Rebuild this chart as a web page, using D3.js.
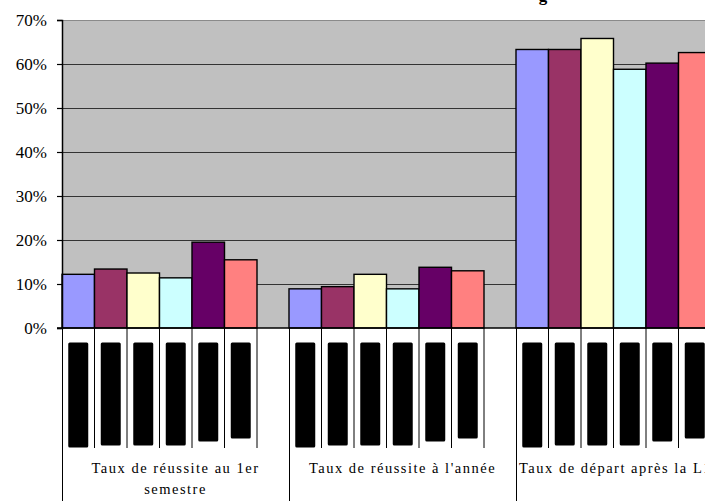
<!DOCTYPE html>
<html>
<head>
<meta charset="utf-8">
<script src="https://cdn.jsdelivr.net/npm/d3@7"></script>
<style>
  html, body { margin: 0; padding: 0; background: #fff; }
  svg { display: block; }
</style>
</head>
<body>
<svg id="chart" width="705" height="501"></svg>
<script>
// Categories (x axis) and their wrapped label lines
const categories = ["Taux de réussite au 1er semestre", "Taux de réussite à l'année", "Taux de départ après la L1"];
const categoryLines = [["Taux de réussite au 1er", "semestre"], ["Taux de réussite à l'année"], ["Taux de départ après la L1"]];

// Six series, one value (%) per category
const serie1 = [12.2, 8.9, 63.3];
const serie2 = [13.4, 9.4, 63.3];
const serie3 = [12.5, 12.2, 65.8];
const serie4 = [11.4, 8.9, 58.8];
const serie5 = [19.5, 13.8, 60.2];
const serie6 = [15.5, 13.0, 62.6];
const seriesValues = [serie1, serie2, serie3, serie4, serie5, serie6];
const seriesColors = ["#9999FF", "#993366", "#FFFFCC", "#CCFFFF", "#660066", "#FF8080"];

// Y axis ticks
const yTicks = [0, 10, 20, 30, 40, 50, 60, 70];

const svg = d3.select("#chart");
const plot = { left: 62, top: 20, bottom: 328, slot: 227, barsWidth: 195 };

const x = d3.scaleBand()
  .domain(categories)
  .range([plot.left, plot.left + plot.slot * categories.length])
  .paddingInner(0).paddingOuter(0);

const xs = d3.scaleBand()
  .domain(d3.range(seriesValues.length))
  .range([0, plot.barsWidth])
  .paddingInner(0).paddingOuter(0);

const y = d3.scaleLinear().domain([0, 70]).range([plot.bottom, plot.top]);

// Plot area background
svg.append("rect")
  .attr("x", plot.left).attr("y", plot.top)
  .attr("width", x.range()[1] - plot.left).attr("height", plot.bottom - plot.top)
  .attr("fill", "#C0C0C0");
svg.append("line")
  .attr("x1", plot.left).attr("x2", x.range()[1])
  .attr("y1", plot.top + 0.5).attr("y2", plot.top + 0.5)
  .attr("stroke", "#8a8a8a").attr("stroke-width", 1);

// Gridlines
svg.append("g").selectAll("line")
  .data(yTicks.filter(t => t > 0 && t < 70))
  .join("line")
  .attr("x1", plot.left).attr("x2", x.range()[1])
  .attr("y1", d => Math.round(y(d)) + 0.5).attr("y2", d => Math.round(y(d)) + 0.5)
  .attr("stroke", "#333").attr("stroke-width", 1);

// Title, running past the top edge
svg.append("text")
  .attr("x", 543).attr("y", 1)
  .attr("text-anchor", "middle")
  .attr("font-family", "Liberation Serif, Times New Roman, serif")
  .attr("font-weight", "bold").attr("font-size", 17)
  .text("g");

// Bars
const groups = svg.append("g").selectAll("g")
  .data(categories)
  .join("g")
  .attr("transform", c => `translate(${x(c)},0)`);

groups.selectAll("rect")
  .data((c, ci) => seriesValues.map((s, si) => ({ si, v: s[ci] })))
  .join("rect")
  .attr("x", d => xs(d.si))
  .attr("y", d => y(d.v))
  .attr("width", xs.bandwidth())
  .attr("height", d => y(0) - y(d.v))
  .attr("fill", d => seriesColors[d.si])
  .attr("stroke", "#000").attr("stroke-width", 1.4);

// Y axis
const yAxis = d3.axisLeft(y)
  .tickValues(yTicks)
  .tickSize(5)
  .tickPadding(10)
  .tickFormat(d => d + "%");
const ya = svg.append("g")
  .attr("transform", `translate(${plot.left},0)`)
  .call(yAxis);
ya.select(".domain").attr("stroke", "#000").attr("stroke-width", 1.5);
ya.selectAll(".tick line").attr("stroke", "#000").attr("stroke-width", 1.2);
ya.selectAll(".tick text")
  .attr("font-family", "Liberation Serif, Times New Roman, serif")
  .attr("font-size", 17).attr("fill", "#000");

// Horizontal axis line at 0%
svg.append("line")
  .attr("x1", plot.left - 5).attr("x2", x.range()[1])
  .attr("y1", y(0)).attr("y2", y(0))
  .attr("stroke", "#000").attr("stroke-width", 1.5);

// Category table below the axis: series label cells and category cells
const tableBottom = 501;
const cellBottom = 448;
const labelTop = 342.5;
const labelDepth = [105, 103, 103, 103, 99, 96];

categories.forEach((c, ci) => {
  const x0 = x(c);
  svg.append("line")
    .attr("x1", x0 + 0.5).attr("x2", x0 + 0.5)
    .attr("y1", y(0)).attr("y2", tableBottom)
    .attr("stroke", "#000").attr("stroke-width", 1);
  seriesValues.forEach((s, si) => {
    const bx = x0 + xs(si);
    svg.append("line")
      .attr("x1", bx + xs.bandwidth()).attr("x2", bx + xs.bandwidth())
      .attr("y1", y(0)).attr("y2", cellBottom)
      .attr("stroke", "#000").attr("stroke-width", 1);
    svg.append("rect")
      .attr("x", bx + xs.bandwidth() / 2 - 10)
      .attr("y", labelTop)
      .attr("width", 20)
      .attr("height", labelDepth[si])
      .attr("rx", 1.5)
      .attr("fill", "#000");
  });
});

// Category labels
const labelG = svg.append("g")
  .attr("font-family", "Liberation Serif, Times New Roman, serif")
  .attr("font-size", 14.5)
  .attr("letter-spacing", 1.5)
  .attr("fill", "#000");
categories.forEach((c, ci) => {
  const last = ci === categories.length - 1;
  const t = labelG.append("text")
    .attr("text-anchor", last ? "start" : "middle")
    .attr("x", last ? x(c) + 3 : x(c) + x.bandwidth() / 2)
    .attr("y", 473);
  categoryLines[ci].forEach((line, li) => {
    t.append("tspan")
      .attr("x", last ? x(c) + 3 : x(c) + x.bandwidth() / 2)
      .attr("dy", li === 0 ? 0 : 21)
      .text(line);
  });
});
</script>
</body>
</html>
